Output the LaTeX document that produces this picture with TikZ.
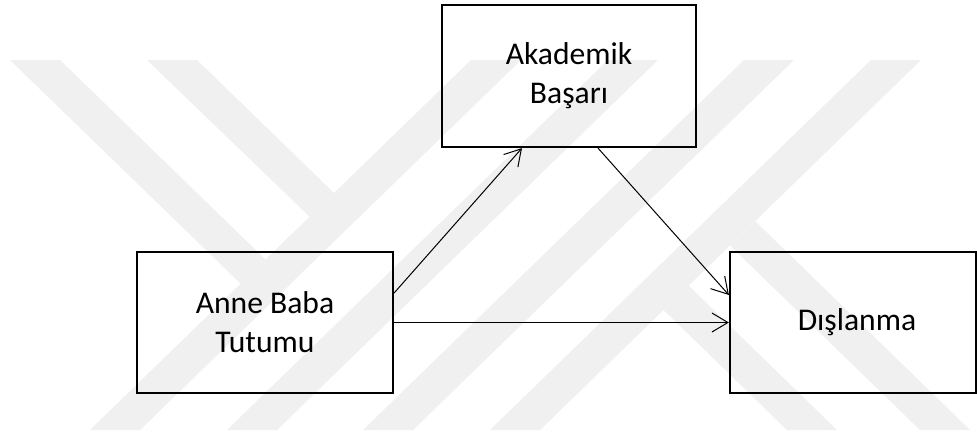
\documentclass[tikz,border=0pt]{standalone}
\usepackage{fontspec}
\setmainfont{Carlito}
\usetikzlibrary{arrows.meta}
\begin{document}
\begin{tikzpicture}[x=1pt,y=-1pt,
  wm/.style={fill=black!6,draw=none},
  box/.style={draw=black,line width=2.2pt,fill=none,align=center,inner sep=0pt,
    font=\fontsize{31.6}{39}\selectfont},
  conn/.style={line width=1pt,-{Straight Barb[length=16pt,width=19pt,line width=1pt]}}]
\useasboundingbox (0,0) rectangle (977,437);
\fill[white] (0,0) rectangle (977,437);
% watermark
\fill[wm] (90,430) -- (140,430) -- (521,60) -- (471,60) -- cycle;
\fill[wm] (227,430) -- (277,430) -- (658,60) -- (608,60) -- cycle;
\fill[wm] (363,430) -- (413,430) -- (794,60) -- (744,60) -- cycle;
\fill[wm] (490,430) -- (540,430) -- (921,60) -- (871,60) -- cycle;
\fill[wm] (10,60) -- (60,60) -- (266,260) -- (241,284) -- cycle;
\fill[wm] (147,60) -- (197,60) -- (334,193) -- (310,217) -- cycle;
\fill[wm] (663.6,310) -- (688.7,285.8) -- (837,430) -- (787,430) -- cycle;
\fill[wm] (730,245.5) -- (755.3,221.3) -- (970,430) -- (920,430) -- cycle;
% boxes
\node[box,minimum width=254pt,minimum height=142pt] (ak) at (569,76) {Akademik\\Başarı};
\node[box,minimum width=256pt,minimum height=141pt] (an) at (265,322.5) {Anne Baba\\Tutumu};
\node[box,minimum width=246pt,minimum height=141pt] (di) at (853,322.5) {\hspace*{8pt}Dışlanma};
% connectors
\draw[conn] ([yshift=29.5pt]an.east) -- ([xshift=-47pt]ak.south);
\draw[conn] ([xshift=29pt]ak.south) -- ([yshift=27.5pt]di.west);
\draw[conn] (an.east) -- (di.west);
\end{tikzpicture}
\end{document}
